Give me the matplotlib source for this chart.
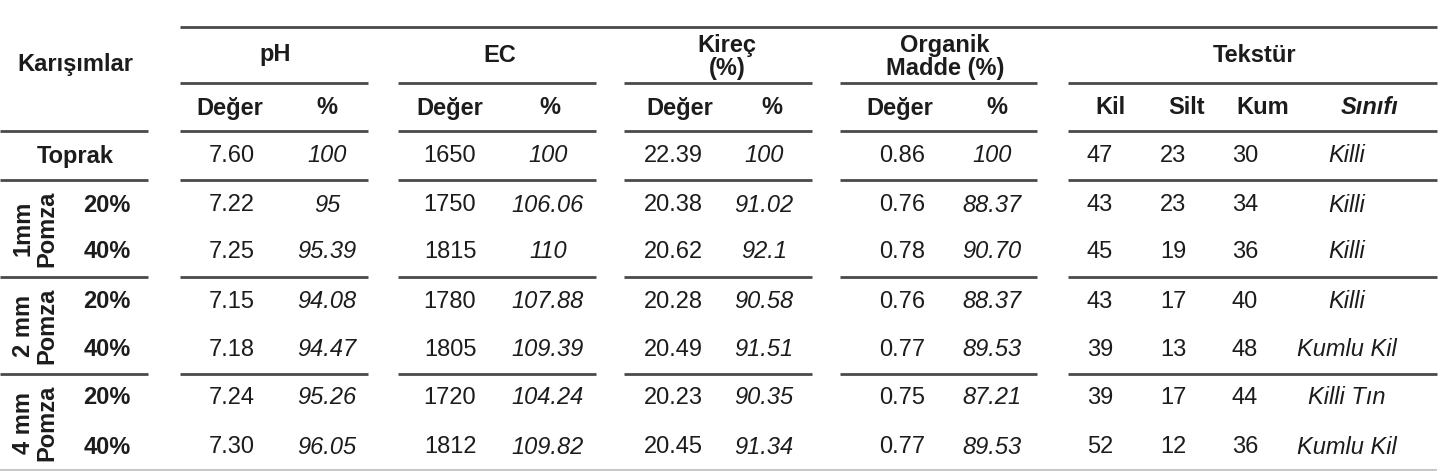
import matplotlib.pyplot as plt

plt.rcParams['font.family'] = ['Liberation Sans', 'DejaVu Sans']

# Tablo verileri
satirlar = ["Toprak", "20%", "40%", "20%", "40%", "20%", "40%"]
gruplar = ["1mm\nPomza", "2 mm\nPomza", "4 mm\nPomza"]
ph_deger = ["7.60", "7.22", "7.25", "7.15", "7.18", "7.24", "7.30"]
ph_yuzde = ["100", "95", "95.39", "94.08", "94.47", "95.26", "96.05"]
ec_deger = ["1650", "1750", "1815", "1780", "1805", "1720", "1812"]
ec_yuzde = ["100", "106.06", "110", "107.88", "109.39", "104.24", "109.82"]
kirec_deger = ["22.39", "20.38", "20.62", "20.28", "20.49", "20.23", "20.45"]
kirec_yuzde = ["100", "91.02", "92.1", "90.58", "91.51", "90.35", "91.34"]
om_deger = ["0.86", "0.76", "0.78", "0.76", "0.77", "0.75", "0.77"]
om_yuzde = ["100", "88.37", "90.70", "88.37", "89.53", "87.21", "89.53"]
kil = ["47", "43", "45", "43", "39", "39", "52"]
silt = ["23", "23", "19", "17", "13", "17", "12"]
kum = ["30", "34", "36", "40", "48", "44", "36"]
sinif = ["Killi", "Killi", "Killi", "Killi", "Kumlu Kil", "Killi Tın", "Kumlu Kil"]

fig = plt.figure(figsize=(14.49, 4.71), dpi=100)
ax = fig.add_axes([0, 0, 1, 1])
ax.set_xlim(0, 1449)
ax.set_ylim(471, 0)
ax.axis('off')

fs = 17
renk = '#1c1c1c'
cizgi = '#4a4a4a'

# yatay çizgiler için sütun aralıkları
bloklar = [(180, 368), (398, 596), (624, 812), (840, 1037), (1068, 1437)]
sol = (0, 148)

ax.hlines(27, 180, 1437, color=cizgi, lw=2)
for a, b in bloklar:
    ax.hlines(83, a, b, color=cizgi, lw=2)
for y in [131, 180, 277, 374]:
    ax.hlines(y, sol[0], sol[1], color=cizgi, lw=2)
    for a, b in bloklar:
        ax.hlines(y, a, b, color=cizgi, lw=2)
ax.hlines(469.5, 0, 1437, color='#c8c8c8', lw=1.5)

# başlıklar
bold = dict(fontsize=fs, fontweight='bold', color=renk, ha='center', va='center')
ax.text(75, 65, "Karışımlar", **bold)
ax.text(275, 55, "pH", **bold)
ax.text(500, 55, "EC", **bold)
ax.text(727, 57, "Kireç\n(%)", linespacing=1.0, **bold)
ax.text(945, 57, "Organik\nMadde (%)", linespacing=1.0, **bold)
ax.text(1255, 55, "Tekstür", **bold)

alt_basliklar = [(230, "Değer"), (327, "%"), (450, "Değer"), (550, "%"),
                 (680, "Değer"), (772, "%"), (900, "Değer"), (997, "%"),
                 (1110, "Kil"), (1187, "Silt"), (1263, "Kum")]
for x, t in alt_basliklar:
    ax.text(x, 108, t, **bold)
ax.text(1370, 108, "Sınıfı", fontstyle='italic', **bold)

# satır etiketleri
satir_y = [156, 205, 252, 302, 350, 398, 447]
ax.text(75, satir_y[0], satirlar[0], **bold)
for i in range(1, 7):
    ax.text(107, satir_y[i], satirlar[i], **bold)
for g, etiket in enumerate(gruplar):
    yc = (satir_y[1 + 2 * g] + satir_y[2 + 2 * g]) / 2
    ax.text(35, yc, etiket, rotation=90, linespacing=1.05, **bold)

# veri sütunları
normal = dict(fontsize=fs, color=renk, ha='center', va='center')
italik = dict(fontsize=fs, color=renk, ha='center', va='center', fontstyle='italic')
sutunlar = [(232, ph_deger, normal), (327, ph_yuzde, italik),
            (450, ec_deger, normal), (548, ec_yuzde, italik),
            (673, kirec_deger, normal), (764, kirec_yuzde, italik),
            (902, om_deger, normal), (992, om_yuzde, italik),
            (1100, kil, normal), (1173, silt, normal), (1245, kum, normal),
            (1347, sinif, italik)]
for x, degerler, stil in sutunlar:
    for y, d in zip(satir_y, degerler):
        ax.text(x, y, d, **stil)

fig.savefig('out.png', dpi=100)
